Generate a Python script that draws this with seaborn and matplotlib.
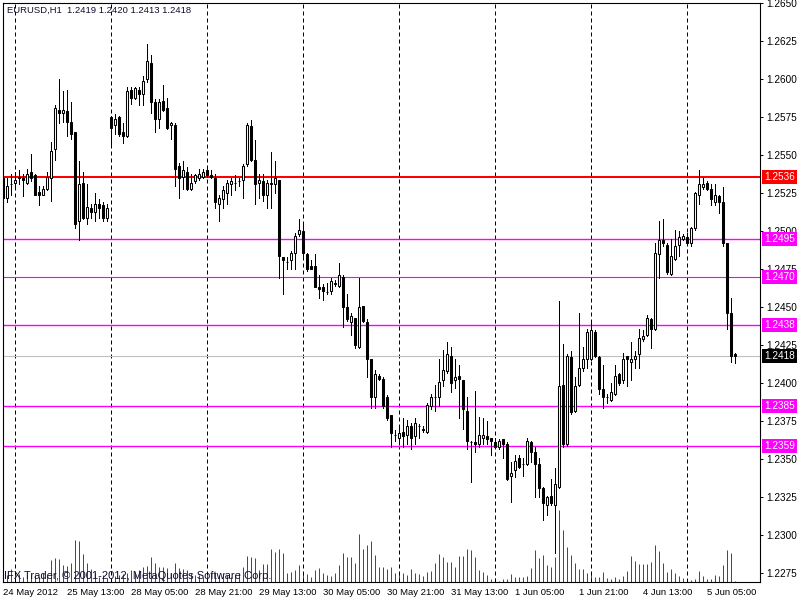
import numpy as np
import matplotlib
matplotlib.use("Agg")
import matplotlib.pyplot as plt
import matplotlib.transforms as mtransforms
import seaborn as sns

# EURUSD H1 bars, 24 May 2012 21:00 .. 5 Jun 2012 12:00
opens = [
    1.2535, 1.2522, 1.2531, 1.2532, 1.2535, 1.2535, 1.2532, 1.2539, 1.2537, 1.2526,
    1.2524, 1.2528, 1.2535, 1.2554, 1.2580, 1.2578, 1.2579, 1.2572, 1.2565, 1.2507,
    1.2532, 1.2509, 1.2515, 1.2513, 1.2518, 1.2517, 1.2509, 1.2575, 1.2570, 1.2575,
    1.2565, 1.2563, 1.2593, 1.2588, 1.2593, 1.2590, 1.2600, 1.2611, 1.2585, 1.2574,
    1.2586, 1.2581, 1.2570, 1.2570, 1.2543, 1.2536, 1.2539, 1.2528, 1.2533, 1.2535,
    1.2536, 1.2540, 1.2537, 1.2535, 1.2518, 1.2521, 1.2525, 1.2531, 1.2532, 1.2533,
    1.2534, 1.2544, 1.2569, 1.2547, 1.2532, 1.2533, 1.2524, 1.2531, 1.2531, 1.2534,
    1.2483, 1.2480, 1.2481, 1.2486, 1.2498, 1.2500, 1.2485, 1.2477, 1.2477, 1.2463,
    1.2463, 1.2460, 1.2461, 1.2465, 1.2464, 1.2470, 1.2450, 1.2440, 1.2443, 1.2424,
    1.2451, 1.2440, 1.2416, 1.2391, 1.2405, 1.2403, 1.2391, 1.2379, 1.2366, 1.2364,
    1.2368, 1.2366, 1.2372, 1.2365, 1.2372, 1.2370, 1.2368, 1.2385, 1.2391, 1.2391,
    1.2402, 1.2408, 1.2418, 1.2402, 1.2405, 1.2402, 1.2382, 1.2361, 1.2361, 1.2360,
    1.2364, 1.2365, 1.2364, 1.2361, 1.2358, 1.2363, 1.2360, 1.2339, 1.2343, 1.2351,
    1.2347, 1.2347, 1.2361, 1.2355, 1.2347, 1.2331, 1.2320, 1.2326, 1.2320, 1.2332,
    1.2399, 1.2360, 1.2417, 1.2382, 1.2399, 1.2410, 1.2416, 1.2416, 1.2434, 1.2417,
    1.2396, 1.2391, 1.2389, 1.2393, 1.2406, 1.2402, 1.2418, 1.2414, 1.2416, 1.2419,
    1.2429, 1.2432, 1.2442, 1.2436, 1.2485, 1.2494, 1.2491, 1.2472, 1.2482, 1.2491,
    1.2495, 1.2496, 1.2492, 1.2502, 1.2524, 1.2529, 1.2532, 1.2528, 1.2519, 1.2523,
    1.2519, 1.2492, 1.2446, 1.2419,
]
highs = [
    1.2538, 1.2535, 1.2538, 1.2539, 1.2540, 1.2538, 1.2541, 1.2551, 1.2538, 1.2530,
    1.2530, 1.2539, 1.2559, 1.2583, 1.2600, 1.2592, 1.2593, 1.2585, 1.2565, 1.2546,
    1.2539, 1.2531, 1.2518, 1.2525, 1.2521, 1.2519, 1.2518, 1.2576, 1.2577, 1.2576,
    1.2571, 1.2595, 1.2595, 1.2595, 1.2595, 1.2602, 1.2623, 1.2616, 1.2587, 1.2587,
    1.2596, 1.2588, 1.2572, 1.2571, 1.2545, 1.2546, 1.2542, 1.2538, 1.2538, 1.2541,
    1.2541, 1.2541, 1.2540, 1.2538, 1.2524, 1.2530, 1.2534, 1.2535, 1.2537, 1.2535,
    1.2544, 1.2571, 1.2573, 1.2560, 1.2538, 1.2538, 1.2534, 1.2552, 1.2546, 1.2534,
    1.2483, 1.2483, 1.2487, 1.2499, 1.2508, 1.2505, 1.2486, 1.2481, 1.2485, 1.2471,
    1.2465, 1.2466, 1.2469, 1.2468, 1.2479, 1.2471, 1.2459, 1.2446, 1.2443, 1.2469,
    1.2451, 1.2442, 1.2416, 1.2409, 1.2406, 1.2404, 1.2392, 1.2379, 1.2369, 1.2372,
    1.2377, 1.2376, 1.2374, 1.2377, 1.2373, 1.2372, 1.2387, 1.2393, 1.2399, 1.2416,
    1.2422, 1.2427, 1.2424, 1.2416, 1.2412, 1.2402, 1.2391, 1.2362, 1.2395, 1.2378,
    1.2377, 1.2375, 1.2364, 1.2364, 1.2363, 1.2363, 1.2361, 1.2348, 1.2353, 1.2353,
    1.2351, 1.2364, 1.2362, 1.2358, 1.2351, 1.2332, 1.2326, 1.2337, 1.2344, 1.2454,
    1.2426, 1.2419, 1.2421, 1.2404, 1.2446, 1.2424, 1.2436, 1.2441, 1.2435, 1.2418,
    1.2412, 1.2393, 1.2400, 1.2412, 1.2407, 1.2420, 1.2418, 1.2427, 1.2421, 1.2436,
    1.2435, 1.2445, 1.2443, 1.2492, 1.2507, 1.2508, 1.2492, 1.2495, 1.2501, 1.2500,
    1.2498, 1.2499, 1.2503, 1.2526, 1.2540, 1.2535, 1.2533, 1.2531, 1.2531, 1.2524,
    1.2529, 1.2492, 1.2456, 1.2420,
]
lows = [
    1.2522, 1.2519, 1.2524, 1.2528, 1.2531, 1.2523, 1.2531, 1.2533, 1.2524, 1.2517,
    1.2524, 1.2527, 1.2520, 1.2547, 1.2571, 1.2572, 1.2563, 1.2561, 1.2502, 1.2494,
    1.2508, 1.2505, 1.2509, 1.2507, 1.2509, 1.2507, 1.2507, 1.2557, 1.2564, 1.2563,
    1.2558, 1.2562, 1.2584, 1.2587, 1.2583, 1.2583, 1.2598, 1.2578, 1.2565, 1.2568,
    1.2579, 1.2567, 1.2561, 1.2530, 1.2522, 1.2528, 1.2527, 1.2527, 1.2532, 1.2534,
    1.2535, 1.2536, 1.2535, 1.2515, 1.2507, 1.2515, 1.2518, 1.2524, 1.2527, 1.2530,
    1.2522, 1.2543, 1.2546, 1.2518, 1.2522, 1.2520, 1.2515, 1.2515, 1.2525, 1.2469,
    1.2459, 1.2475, 1.2475, 1.2475, 1.2497, 1.2484, 1.2474, 1.2475, 1.2463, 1.2456,
    1.2455, 1.2459, 1.2459, 1.2464, 1.2463, 1.2437, 1.2441, 1.2432, 1.2423, 1.2423,
    1.2440, 1.2404, 1.2384, 1.2384, 1.2402, 1.2384, 1.2376, 1.2358, 1.2362, 1.2360,
    1.2358, 1.2360, 1.2357, 1.2360, 1.2364, 1.2368, 1.2367, 1.2383, 1.2382, 1.2385,
    1.2398, 1.2407, 1.2394, 1.2397, 1.2377, 1.2370, 1.2357, 1.2335, 1.2355, 1.2358,
    1.2360, 1.2360, 1.2353, 1.2358, 1.2357, 1.2351, 1.2336, 1.2322, 1.2338, 1.2344,
    1.2339, 1.2346, 1.2348, 1.2325, 1.2325, 1.2310, 1.2313, 1.2320, 1.2288, 1.2331,
    1.2358, 1.2359, 1.2380, 1.2381, 1.2398, 1.2408, 1.2410, 1.2415, 1.2417, 1.2393,
    1.2384, 1.2387, 1.2388, 1.2392, 1.2399, 1.2400, 1.2398, 1.2402, 1.2410, 1.2410,
    1.2428, 1.2431, 1.2423, 1.2435, 1.2469, 1.2490, 1.2472, 1.2471, 1.2481, 1.2484,
    1.2494, 1.2491, 1.2490, 1.2501, 1.2518, 1.2528, 1.2527, 1.2517, 1.2517, 1.2512,
    1.2490, 1.2436, 1.2414, 1.2413,
]
closes = [
    1.2522, 1.2530, 1.2531, 1.2534, 1.2536, 1.2534, 1.2538, 1.2535, 1.2524, 1.2524,
    1.2528, 1.2536, 1.2553, 1.2581, 1.2578, 1.2580, 1.2572, 1.2564, 1.2505, 1.2531,
    1.2509, 1.2516, 1.2513, 1.2518, 1.2515, 1.2509, 1.2515, 1.2568, 1.2574, 1.2564,
    1.2563, 1.2592, 1.2588, 1.2594, 1.2590, 1.2599, 1.2612, 1.2585, 1.2574, 1.2585,
    1.2580, 1.2568, 1.2571, 1.2541, 1.2535, 1.2540, 1.2528, 1.2532, 1.2537, 1.2538,
    1.2539, 1.2537, 1.2536, 1.2519, 1.2522, 1.2527, 1.2532, 1.2533, 1.2532, 1.2533,
    1.2543, 1.2570, 1.2547, 1.2531, 1.2534, 1.2524, 1.2532, 1.2532, 1.2535, 1.2484,
    1.2481, 1.2480, 1.2486, 1.2497, 1.2501, 1.2486, 1.2475, 1.2475, 1.2463, 1.2462,
    1.2461, 1.2460, 1.2467, 1.2466, 1.2471, 1.2450, 1.2442, 1.2444, 1.2425, 1.2450,
    1.2441, 1.2416, 1.2391, 1.2406, 1.2403, 1.2385, 1.2377, 1.2367, 1.2366, 1.2367,
    1.2365, 1.2372, 1.2364, 1.2374, 1.2372, 1.2369, 1.2386, 1.2391, 1.2391, 1.2401,
    1.2409, 1.2419, 1.2400, 1.2404, 1.2403, 1.2383, 1.2362, 1.2361, 1.2360, 1.2366,
    1.2366, 1.2363, 1.2362, 1.2358, 1.2362, 1.2360, 1.2337, 1.2341, 1.2349, 1.2345,
    1.2347, 1.2362, 1.2355, 1.2347, 1.2331, 1.2321, 1.2325, 1.2321, 1.2334, 1.2398,
    1.2360, 1.2418, 1.2381, 1.2398, 1.2410, 1.2416, 1.2434, 1.2435, 1.2418, 1.2396,
    1.2391, 1.2391, 1.2394, 1.2405, 1.2400, 1.2416, 1.2416, 1.2416, 1.2418, 1.2430,
    1.2431, 1.2443, 1.2436, 1.2486, 1.2494, 1.2492, 1.2473, 1.2484, 1.2490, 1.2496,
    1.2497, 1.2492, 1.2502, 1.2525, 1.2531, 1.2531, 1.2528, 1.2521, 1.2524, 1.2519,
    1.2492, 1.2446, 1.2418, 1.2418,
]
volumes = [
    12, 7, 13, 9, 8, 5, 7, 7, 7, 5,
    9, 7, 22, 24, 23, 17, 16, 19, 42, 41,
    28, 19, 13, 9, 5, 7, 4, 4, 6, 7,
    8, 9, 12, 10, 12, 15, 16, 25, 19, 15,
    15, 14, 9, 19, 14, 13, 12, 9, 7, 7,
    5, 7, 9, 9, 7, 9, 7, 5, 7, 9,
    15, 26, 25, 24, 12, 18, 18, 33, 30, 33,
    29, 9, 10, 12, 17, 10, 8, 5, 12, 14,
    9, 7, 6, 9, 17, 29, 25, 25, 19, 48,
    33, 37, 41, 27, 15, 15, 13, 15, 9, 10,
    9, 7, 13, 9, 8, 6, 10, 11, 19, 28,
    25, 20, 20, 15, 26, 26, 33, 32, 25, 12,
    10, 7, 3, 4, 1, 3, 3, 8, 5, 5,
    5, 6, 14, 32, 24, 27, 17, 15, 25, 72,
    52, 35, 27, 19, 13, 13, 9, 9, 5, 5,
    10, 4, 3, 5, 3, 6, 11, 26, 21, 18,
    18, 18, 20, 37, 31, 19, 10, 13, 9, 6,
    4, 3, 2, 3, 11, 6, 3, 3, 7, 6,
    17, 32, 29, 1,
]

# bar index of each day start (period separators)
day_starts = [3, 27, 51, 75, 99, 123, 147, 171]

x_tick_pos = [0, 16, 32, 48, 64, 80, 96, 112, 128, 144, 160, 176]
x_tick_labels = ["24 May 2012", "25 May 13:00", "28 May 05:00", "28 May 21:00",
                 "29 May 13:00", "30 May 05:00", "30 May 21:00", "31 May 13:00",
                 "1 Jun 05:00", "1 Jun 21:00", "4 Jun 13:00", "5 Jun 05:00"]
y_ticks = [1.2275, 1.2300, 1.2325, 1.2350, 1.2375, 1.2400, 1.2425, 1.2450,
           1.2475, 1.2500, 1.2525, 1.2550, 1.2575, 1.2600, 1.2625, 1.2650]

# horizontal levels: (price, colour, width in points)
levels = [(1.2536, "#ff0000", 1.44), (1.2495, "#ff00ff", 1.0), (1.2470, "#ff00ff", 0.8),
          (1.2438, "#ff00ff", 1.0), (1.2385, "#ff00ff", 1.0), (1.2359, "#ff00ff", 1.0)]
bid_price = 1.2418

header = "EURUSD,H1  1.2419 1.2420 1.2413 1.2418"
footer = "IFX Trader, \u00a9 2001-2012, MetaQuotes Software Corp."


def main():
    sns.set_style("white")
    plt.rcParams["font.family"] = ["Liberation Sans", "DejaVu Sans"]
    text_col = "#101030"

    o = np.array(opens)
    h = np.array(highs)
    l = np.array(lows)
    c = np.array(closes)
    x = np.arange(len(o))

    fig = plt.figure(figsize=(8, 6), dpi=100, facecolor="white")
    ax = fig.add_axes([3 / 800, 18 / 600, 757 / 800, 579 / 600])
    axv = ax.twinx()
    ax.set_zorder(axv.get_zorder() + 1)
    ax.patch.set_visible(False)
    axv.patch.set_facecolor("white")

    # tick volume in the lower part of the window
    axv.vlines(x, 0, volumes, color="#008000", lw=0.72, snap=True)
    axv.set_ylim(0, 579)
    axv.set_yticks([])
    sns.despine(ax=axv, left=True, right=True, top=True, bottom=True)

    # period separators
    for d in day_starts:
        ax.axvline(d, color="black", lw=0.72, ls=(0, (4, 3)), zorder=1)

    # levels
    for price, col, lw in levels:
        ax.axhline(price, color=col, lw=lw, zorder=2)
    ax.axhline(bid_price, color="#c0c0c0", lw=0.8, zorder=2)

    # candles
    ax.vlines(x, l, h, color="black", lw=0.7, antialiased=False, zorder=3)
    up = c >= o
    ax.bar(x[up], (c - o)[up], bottom=o[up], width=0.55, color="white",
           edgecolor="black", linewidth=0.75, zorder=4)
    ax.bar(x[~up], (o - c)[~up], bottom=c[~up], width=0.55, color="black",
           edgecolor="black", linewidth=0.75, zorder=4)

    ax.set_xlim(-0.075, 189.2)
    axv.set_xlim(-0.075, 189.2)
    ax.set_ylim(1.22692, 1.26502)

    ax.yaxis.tick_right()
    ax.set_yticks(y_ticks)
    ax.set_yticklabels(["%.4f" % t for t in y_ticks])
    ax.tick_params(axis="y", direction="out", length=2.5, width=0.7, pad=2,
                   labelsize=7.2, colors="black")
    ax.set_xticks(x_tick_pos)
    ax.set_xticklabels(x_tick_labels)
    ax.tick_params(axis="x", direction="out", length=3, width=0.7, pad=1.5,
                   labelsize=6.8, colors="black")
    for lab in ax.get_xticklabels():
        lab.set_horizontalalignment("left")
    axv.tick_params(axis="x", bottom=False, labelbottom=False)

    for sp in ax.spines.values():
        sp.set_visible(True)
        sp.set_color("black")
        sp.set_linewidth(0.8)

    # price labels on the right scale
    trans = mtransforms.blended_transform_factory(ax.transAxes, ax.transData)
    for price, col, _ in levels:
        ax.text(1.0 + 4 / 757, price, "%.4f" % price, transform=trans, ha="left",
                va="center", color="white", fontsize=7.2, clip_on=False, zorder=10,
                bbox=dict(boxstyle="square,pad=0.2", fc=col, ec="none"))
    ax.text(1.0 + 4 / 757, bid_price, "%.4f" % bid_price, transform=trans, ha="left",
            va="center", color="white", fontsize=7.2, clip_on=False, zorder=10,
            bbox=dict(boxstyle="square,pad=0.2", fc="black", ec="none"))

    fig.text(7 / 800, 1 - 10 / 600, header, ha="left", va="center",
             fontsize=6.8, color=text_col)
    fig.text(4 / 800, 1 - 576 / 600, footer, ha="left", va="center",
             fontsize=8.0, color=text_col, zorder=10)

    fig.savefig("out.png", dpi=100, facecolor="white")


if __name__ == "__main__":
    main()
